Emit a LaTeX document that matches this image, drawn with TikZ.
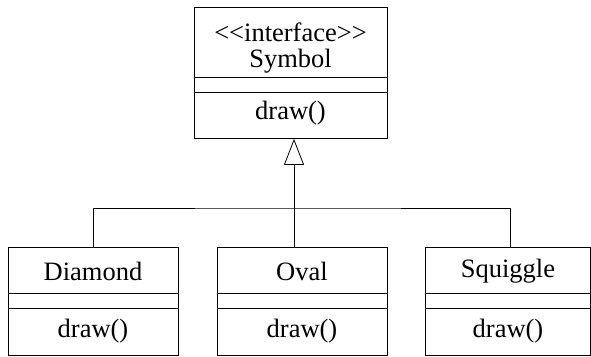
\documentclass[tikz,border=0pt]{standalone}
\usepackage{fontspec}
\setmainfont{Liberation Serif}
\usepackage{tikz}
\usetikzlibrary{arrows.meta}
\tikzset{
	classbox/.style={draw, line width=0.8pt, rectangle, anchor=north west, inner sep=0pt},
	classtext/.style={inner sep=0pt, font=\fontsize{26.5}{30}\selectfont},
	inherit/.style={line width=0.8pt, -{Triangle[open, length=26pt, width=20pt]}},
}
\begin{document}
\begin{tikzpicture}[x=1pt, y=-1pt]
\useasboundingbox (0,0) rectangle (591,356);
% interface
\node[classbox, minimum width=193pt, minimum height=131pt] (symbol) at (194,7) {};
\draw[line width=0.8pt] (194,77) -- (387,77);
\draw[line width=0.8pt] (194,92) -- (387,92);
\node[classtext] (stereo) at (290.5,32) {<\kern0pt<interface>\kern0pt>};
\node[classtext] (symname) at (290.5,61) {Symbol};
\node[classtext] (symop) at (290.5,113) {draw()};
% subclasses
\node[classbox, minimum width=170pt, minimum height=108pt] (diamond) at (8,247) {};
\draw[line width=0.8pt] (8,293) -- (178,293);
\draw[line width=0.8pt] (8,308) -- (178,308);
\node[classtext] (diamname) at (93,271) {Diamond};
\node[classtext] (diamop) at (93,331) {draw()};

\node[classbox, minimum width=170pt, minimum height=108pt] (oval) at (217,247) {};
\draw[line width=0.8pt] (217,293) -- (387,293);
\draw[line width=0.8pt] (217,308) -- (387,308);
\node[classtext] (ovalname) at (302,271) {Oval};
\node[classtext] (ovalop) at (302,331) {draw()};

\node[classbox, minimum width=164.5pt, minimum height=108pt] (squiggle) at (425,247) {};
\draw[line width=0.8pt] (425,293) -- (589.5,293);
\draw[line width=0.8pt] (425,308) -- (589.5,308);
\node[classtext] (squigname) at (508,271) {Squiggle};
\node[classtext] (squigop) at (508,331) {draw()};
% generalization
\coordinate (join) at (294,208);
\draw[line width=0.8pt] (diamond.north) |- (join) -| ([xshift=2.5pt]squiggle.north);
\draw[line width=0.8pt] (join) -- (join |- oval.north);
\draw[inherit] (join) -- (join |- symbol.south);
\end{tikzpicture}
\end{document}
